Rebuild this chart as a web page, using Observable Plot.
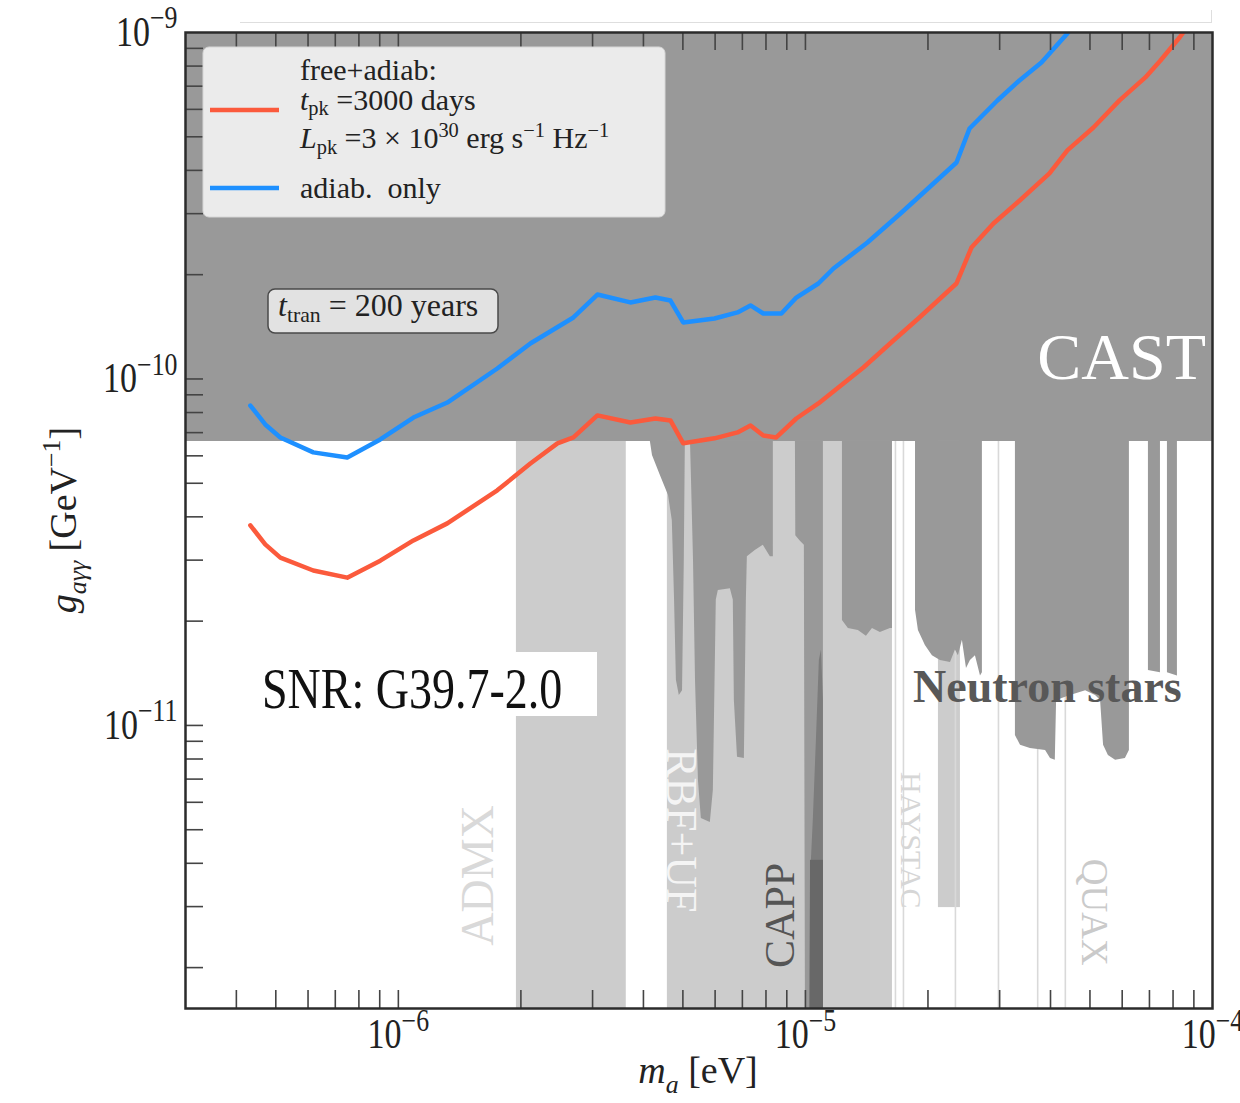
<!DOCTYPE html>
<html>
<head>
<meta charset="utf-8">
<script src="https://cdn.jsdelivr.net/npm/d3@7"></script>
<script src="https://cdn.jsdelivr.net/npm/@observablehq/plot@0.6"></script>
<style>
  body { margin: 0; background: #fff; }
  #chart { position: relative; width: 1240px; height: 1103px; overflow: hidden; }
  #deco { position: absolute; left: 240px; top: 10px; width: 971px; height: 12px;
          border-bottom: 1.5px solid #dedede; border-right: 1.5px solid #dedede; }
  svg { position: absolute; left: 0; top: 0; }
</style>
</head>
<body>
<div id="chart"><div id="deco"></div></div>
<script>
// ---------------- data ----------------
const X_DOMAIN = [3e-7, 1e-4];          // m_a [eV]
const Y_DOMAIN = [1.524e-12, 1e-9];     // g_aγγ [GeV^-1]
const CAST_LIMIT = 6.6e-11;

// "adiab. only" (blue)
const massBlue = [4.33e-7, 4.71e-7, 5.13e-7, 6.18e-7, 7.49e-7, 9.03e-7, 1.089e-6, 1.319e-6, 1.75e-6, 2.11e-6,
  2.692e-6, 3.083e-6, 3.715e-6, 4.28e-6, 4.66e-6, 5.01e-6, 5.98e-6, 6.81e-6, 7.33e-6, 7.88e-6, 8.73e-6, 9.5e-6,
  1.076e-5, 1.172e-5, 1.42e-5, 1.712e-5, 1.939e-5, 2.35e-5, 2.53e-5, 2.962e-5, 3.355e-5, 3.8e-5, 4.4e-5, 4.5e-5];
const gBlue = [8.38e-11, 7.39e-11, 6.78e-11, 6.14e-11, 5.93e-11, 6.69e-11, 7.74e-11, 8.55e-11, 1.072e-10, 1.266e-10,
  1.505e-10, 1.753e-10, 1.663e-10, 1.718e-10, 1.684e-10, 1.456e-10, 1.495e-10, 1.556e-10, 1.63e-10, 1.545e-10, 1.545e-10, 1.718e-10,
  1.886e-10, 2.084e-10, 2.476e-10, 3.002e-10, 3.43e-10, 4.214e-10, 5.283e-10, 6.365e-10, 7.27e-10, 8.19e-10, 9.93e-10, 1.03e-9];

// "free+adiab." (red)
const massRed = [4.33e-7, 4.71e-7, 5.13e-7, 6.18e-7, 7.49e-7, 9.03e-7, 1.089e-6, 1.319e-6, 1.75e-6, 2.11e-6,
  2.459e-6, 2.692e-6, 3.083e-6, 3.715e-6, 4.28e-6, 4.66e-6, 5.01e-6, 5.98e-6, 6.81e-6, 7.33e-6, 7.88e-6, 8.48e-6,
  9.5e-6, 1.076e-5, 1.388e-5, 1.645e-5, 1.906e-5, 2.35e-5, 2.558e-5, 2.896e-5, 3.355e-5, 3.976e-5, 4.4e-5, 5.1e-5,
  5.91e-5, 6.84e-5, 7.45e-5, 8.3e-5, 8.63e-5];
const gRed = [3.78e-11, 3.33e-11, 3.05e-11, 2.8e-11, 2.67e-11, 2.99e-11, 3.42e-11, 3.83e-11, 4.77e-11, 5.7e-11,
  6.52e-11, 6.78e-11, 7.85e-11, 7.49e-11, 7.69e-11, 7.59e-11, 6.52e-11, 6.74e-11, 7.01e-11, 7.34e-11, 6.87e-11, 6.78e-11,
  7.69e-11, 8.5e-11, 1.079e-10, 1.291e-10, 1.505e-10, 1.886e-10, 2.395e-10, 2.81e-10, 3.27e-10, 3.92e-10, 4.57e-10, 5.32e-10,
  6.37e-10, 7.42e-10, 8.3e-10, 9.67e-10, 1.03e-9];

// light haloscope bands (ADMX, RBF+UF/CAPP, HAYSTAC-like column)
const bandLow   = [1.95e-6, 4.58e-6, 2.122e-5];
const bandHigh  = [3.63e-6, 1.636e-5, 2.403e-5];
const bandFloor = [1.524e-12, 1.524e-12, 2.98e-12];

// faint single-line limits
const faintLineMass = [1.664e-5, 1.741e-5, 2.336e-5, 2.98e-5, 3.72e-5, 4.35e-5];

// darker exclusion regions: [mass, lower edge of coupling] (upper edge = CAST)
const regionA = [[4.16e-6,6.6e-11],[4.21e-6,6.01e-11],[4.40e-6,5.27e-11],[4.61e-6,4.61e-11],[4.71e-6,3.90e-11],
  [4.77e-6,2.30e-11],[4.82e-6,1.35e-11],[4.90e-6,1.22e-11],[4.99e-6,1.26e-11],[5.04e-6,2.99e-11],[5.07e-6,6.6e-11]];
const regionB = [[5.22e-6,6.6e-11],[5.25e-6,5.10e-11],[5.31e-6,2.99e-11],[5.37e-6,1.35e-11],[5.46e-6,6.94e-12],
  [5.55e-6,5.39e-12],[5.84e-6,5.25e-12],[5.94e-6,6.49e-12],[6.04e-6,2.30e-11],[6.11e-6,2.45e-11],[6.54e-6,2.48e-11],
  [6.65e-6,2.30e-11],[6.69e-6,1.18e-11],[6.81e-6,8.09e-12],[7.08e-6,8.03e-12],[7.16e-6,2.30e-11],[7.20e-6,3.07e-11],
  [7.53e-6,3.20e-11],[7.88e-6,3.31e-11],[8.20e-6,3.07e-11],[8.34e-6,3.07e-11],[8.34e-6,6.6e-11]];
const regionD = [[9.45e-6,6.6e-11],[9.47e-6,3.53e-11],[9.72e-6,3.40e-11],[9.94e-6,3.31e-11],[1.0e-5,1.524e-12],
  [1.107e-5,1.524e-12],[1.107e-5,6.6e-11]];
const regionE = [[1.233e-5,6.6e-11],[1.233e-5,2.01e-11],[1.275e-5,1.905e-11],[1.349e-5,1.88e-11],[1.412e-5,1.81e-11],
  [1.461e-5,1.905e-11],[1.528e-5,1.855e-11],[1.617e-5,1.905e-11],[1.636e-5,1.905e-11],[1.636e-5,6.6e-11]];
const regionF = [[1.864e-5,6.6e-11],[1.864e-5,2.15e-11],[1.895e-5,1.88e-11],[1.971e-5,1.70e-11],[2.051e-5,1.59e-11],
  [2.146e-5,1.54e-11],[2.272e-5,1.52e-11],[2.336e-5,1.65e-11],[2.376e-5,1.59e-11],[2.430e-5,1.76e-11],[2.487e-5,1.46e-11],
  [2.543e-5,1.54e-11],[2.616e-5,1.59e-11],[2.692e-5,1.39e-11],[2.721e-5,1.42e-11],[2.721e-5,6.6e-11]];
const regionG = [[3.28e-5,6.6e-11],[3.28e-5,9.36e-12],[3.376e-5,8.76e-12],[3.57e-5,8.58e-12],[3.89e-5,8.47e-12],
  [4.00e-5,8.03e-12],[4.11e-5,7.93e-12],[4.14e-5,1.18e-11],[4.48e-5,1.22e-11],[4.88e-5,1.26e-11],[5.16e-5,1.22e-11],
  [5.31e-5,1.18e-11],[5.40e-5,8.76e-12],[5.55e-5,8.19e-12],[5.78e-5,7.93e-12],[6.11e-5,8.03e-12],[6.25e-5,8.47e-12],[6.25e-5,6.6e-11]];
const regionH = [[6.96e-5,6.6e-11],[6.96e-5,1.44e-11],[7.45e-5,1.42e-11],[7.45e-5,6.6e-11]];
const regionI = [[7.75e-5,6.6e-11],[7.75e-5,1.42e-11],[8.20e-5,1.39e-11],[8.20e-5,6.6e-11]];

// CAPP (darkest) : [mass, upper edge], drawn from the floor
const cappSpike = [[1.023e-5,1.524e-12],[1.029e-5,3.57e-12],[1.046e-5,5.39e-12],[1.064e-5,9.05e-12],
  [1.082e-5,1.54e-11],[1.095e-5,1.65e-11],[1.107e-5,1.18e-11],[1.107e-5,1.524e-12]];
const cappCoreMass = [1.029e-5, 1.107e-5];
const cappCoreTop = 4.08e-12;

// in-plot labels
const expLabels   = ["ADMX", "RBF+UF", "CAPP", "HAYSTAC", "QUAX"];
const expLabelM   = [1.572e-6, 4.96e-6, 8.68e-6, 1.811e-5, 5.10e-5];
const expLabelG   = [3.69e-12, 4.98e-12, 2.83e-12, 4.66e-12, 2.89e-12];
const castLabelM = 5.98e-5, castLabelG = 1.153e-10;
const nsLabelM = 3.93e-5, nsLabelG = 1.287e-11;

// axis ticks
const xLabelTicks = [1e-6, 1e-5, 1e-4];
const yLabelTicks = [1e-11, 1e-10, 1e-9];
const xMinorTicks = [1e-7, 1e-6, 1e-5].flatMap(d => [1,2,3,4,5,6,7,8,9].map(k => k * d)).filter(v => v > 3.01e-7 && v < 0.99e-4);
const yMinorTicks = [1e-12, 1e-11, 1e-10].flatMap(d => [1,2,3,4,5,6,7,8,9].map(k => k * d)).filter(v => v > 1.53e-12 && v < 0.99e-9);

// ---------------- styles ----------------
const W = 1240, H = 1103, ML = 185, MR = 28, MT = 32, MB = 95;
const innerW = W - ML - MR, innerH = H - MT - MB, TICK = 18;
const labelStyle = [
  {rotate: -90, fill: "#d9d9d9", size: 46},
  {rotate: 90,  fill: "#f4f4f4", size: 44},
  {rotate: -90, fill: "#555555", size: 42},
  {rotate: 90,  fill: "#d6d6d6", size: 30},
  {rotate: 90,  fill: "#cacaca", size: 37}
];
const FONT = "'Liberation Serif', 'Times New Roman', serif";

const blueData = massBlue.map((m, i) => ({m, g: gBlue[i]}));
const redData = massRed.map((m, i) => ({m, g: gRed[i]}));
const bands = bandLow.map((lo, i) => ({lo, hi: bandHigh[i], floor: bandFloor[i]}));
const darkRegions = [regionA, regionB, regionD, regionE, regionF, regionG, regionH, regionI];

const chart = Plot.plot({
  width: W, height: H,
  marginLeft: ML, marginRight: MR, marginTop: MT, marginBottom: MB,
  style: {fontFamily: FONT, background: "transparent", overflow: "visible", color: "#222"},
  x: {type: "log", domain: X_DOMAIN},
  y: {type: "log", domain: Y_DOMAIN},
  marks: [
    // CAST
    Plot.rect([CAST_LIMIT], {x1: () => X_DOMAIN[0], x2: () => X_DOMAIN[1], y1: d => d, y2: () => Y_DOMAIN[1], fill: "#999999"}),
    // light bands
    Plot.rect(bands, {x1: "lo", x2: "hi", y1: "floor", y2: () => CAST_LIMIT, fill: "#cccccc"}),
    Plot.ruleX(faintLineMass, {x: d => d, y1: () => Y_DOMAIN[0], y2: () => CAST_LIMIT, stroke: "#d9d9d9", strokeWidth: 1.6}),
    // dark regions
    ...darkRegions.map(r => Plot.areaY(r, {x: d => d[0], y1: d => d[1], y2: () => CAST_LIMIT, fill: "#999999"})),
    // CAPP
    Plot.areaY(cappSpike, {x: d => d[0], y1: () => Y_DOMAIN[0], y2: d => d[1], fill: "#7c7c7c"}),
    Plot.rect([cappCoreTop], {x1: () => cappCoreMass[0], x2: () => cappCoreMass[1], y1: () => Y_DOMAIN[0], y2: d => d, fill: "#686868"}),
    // labels of experiments
    ...expLabels.map((t, i) => Plot.text([t], {x: () => expLabelM[i], y: () => expLabelG[i], text: d => d,
      rotate: labelStyle[i].rotate, fill: labelStyle[i].fill, fontSize: labelStyle[i].size, fontFamily: FONT})),
    Plot.text(["CAST"], {x: () => castLabelM, y: () => castLabelG, text: d => d, fill: "#ffffff", fontSize: 66, fontFamily: FONT}),
    Plot.text(["Neutron stars"], {x: () => nsLabelM, y: () => nsLabelG, text: d => d, fill: "#585858", fontSize: 46, fontWeight: "bold", fontFamily: FONT}),
    // sensitivity curves
    Plot.line(redData, {x: "m", y: "g", stroke: "#fb5a3c", strokeWidth: 4.5, clip: true}),
    Plot.line(blueData, {x: "m", y: "g", stroke: "#1e90ff", strokeWidth: 4.5, clip: true}),
    // inward ticks
    Plot.ruleX(xMinorTicks, {x: d => d, insetTop: innerH - TICK, stroke: "#444", strokeWidth: 1.6}),
    Plot.ruleX(xMinorTicks, {x: d => d, insetBottom: innerH - TICK, stroke: "#444", strokeWidth: 1.6}),
    Plot.ruleY(yMinorTicks, {y: d => d, insetRight: innerW - TICK, stroke: "#444", strokeWidth: 1.6}),
    Plot.frame({stroke: "#2b2b2b", strokeWidth: 2.5}),
    Plot.axisX(xLabelTicks, {anchor: "bottom", tickSize: 0, tickPadding: 10, fontSize: 34, label: null,
      tickFormat: d => "10^" + Math.round(Math.log10(d))}),
    Plot.axisY(yLabelTicks, {anchor: "left", tickSize: 0, tickPadding: 8, fontSize: 34, label: null,
      tickFormat: d => "10^" + Math.round(Math.log10(d))})
  ]
});

document.getElementById("chart").appendChild(chart);
const svg = d3.select(chart);

// superscript tick labels (stretched vertically like the reference)
svg.selectAll('g[aria-label="x-axis tick label"] text, g[aria-label="y-axis tick label"] text').each(function () {
  const s = this.textContent;
  const [b, e] = s.split("^");
  const t = d3.select(this);
  t.text(null);
  t.append("tspan").text(b);
  t.append("tspan").attr("dy", "-0.55em").attr("font-size", "0.76em").text(e.replace("-", "\u2212"));
  t.attr("fill", "#222");
  t.attr("transform", (t.attr("transform") || "") + " scale(1,1.22)");
});

// rich text helper
function rich(parent, parts, fs, anchor = "start", subK = 0.26, supK = 0.42) {
  const t = parent.append("text").attr("font-size", fs).attr("font-family", FONT).attr("fill", "#222")
    .attr("text-anchor", anchor);
  let cur = 0;
  for (const p of parts) {
    const shift = p.sub ? subK * fs : p.sup ? -supK * fs : 0;
    const s = t.append("tspan").text(p.t).attr("dy", shift - cur);
    if (p.sub || p.sup) s.attr("font-size", fs * 0.68);
    if (p.it) s.attr("font-style", "italic");
    cur = shift;
  }
  return t;
}

// legend
const leg = svg.append("g");
leg.append("rect").attr("x", 203).attr("y", 47).attr("width", 462).attr("height", 170).attr("rx", 6)
  .attr("fill", "#ebebeb").attr("stroke", "#d6d6d6").attr("stroke-width", 1);
leg.append("line").attr("x1", 210).attr("x2", 279).attr("y1", 110).attr("y2", 110).attr("stroke", "#fb5a3c").attr("stroke-width", 4.5);
leg.append("line").attr("x1", 210).attr("x2", 279).attr("y1", 188).attr("y2", 188).attr("stroke", "#1e90ff").attr("stroke-width", 4.5);
rich(leg, [{t: "free+adiab:"}], 30).attr("x", 300).attr("y", 80);
rich(leg, [{t: "t", it: true}, {t: "pk", sub: true}, {t: " =3000 days"}], 30, "start", 0.17).attr("x", 300).attr("y", 110);
rich(leg, [{t: "L", it: true}, {t: "pk", sub: true}, {t: " =3 \u00d7 10"}, {t: "30", sup: true}, {t: " erg s"},
  {t: "\u22121", sup: true}, {t: " Hz"}, {t: "\u22121", sup: true}], 30, "start", 0.2, 0.36).attr("x", 300).attr("y", 148);
rich(leg, [{t: "adiab.\u00a0 only"}], 30).attr("x", 300).attr("y", 198);

// t_tran box
const tb = svg.append("g");
tb.append("rect").attr("x", 268).attr("y", 289).attr("width", 230).attr("height", 44).attr("rx", 7)
  .attr("fill", "#e2e2e2").attr("stroke", "#4a4a4a").attr("stroke-width", 1.5);
rich(tb, [{t: "t", it: true}, {t: "tran", sub: true}, {t: " = 200 years"}], 32, "start", 0.2).attr("x", 278).attr("y", 316);

// SNR label box
const sb = svg.append("g");
sb.append("rect").attr("x", 255).attr("y", 652).attr("width", 342).attr("height", 64).attr("fill", "#ffffff");
sb.append("text").attr("transform", "translate(262,708) scale(1,1.22)").attr("font-size", 46)
  .attr("text-anchor", "start").attr("font-family", FONT).attr("fill", "#111").text("SNR: G39.7-2.0");

// axis titles
rich(svg, [{t: "m", it: true}, {t: "a", sub: true, it: true}, {t: " [eV]"}], 38, "middle")
  .attr("transform", "translate(698,1083)");
rich(svg, [{t: "g", it: true}, {t: "a\u03b3\u03b3", sub: true, it: true}, {t: " [GeV"}, {t: "\u22121", sup: true}, {t: "]"}], 38, "middle")
  .attr("transform", "translate(76,520) rotate(-90)");
</script>
</body>
</html>
